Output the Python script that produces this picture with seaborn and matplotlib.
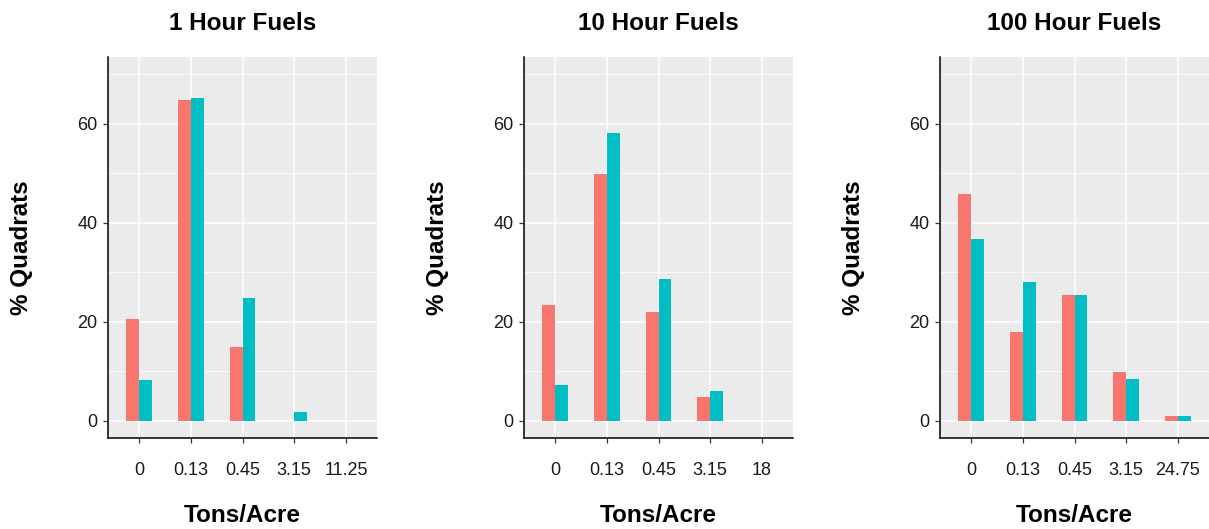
import matplotlib
matplotlib.use("Agg")
import matplotlib.pyplot as plt
import seaborn as sns
import pandas as pd
from matplotlib.ticker import FixedLocator

# ---- data ----
titles = ["1 Hour Fuels", "10 Hour Fuels", "100 Hour Fuels"]
cats_1h = ["0", "0.13", "0.45", "3.15", "11.25"]
cats_10h = ["0", "0.13", "0.45", "3.15", "18"]
cats_100h = ["0", "0.13", "0.45", "3.15", "24.75"]
groups = ["Group 1", "Group 2"]
g1_1h = [20.5, 64.9, 14.8, 0.0, 0.0]
g2_1h = [8.2, 65.2, 24.8, 1.7, 0.0]
g1_10h = [23.3, 49.9, 22.0, 4.8, 0.0]
g2_10h = [7.3, 58.2, 28.6, 6.0, 0.0]
g1_100h = [45.9, 18.0, 25.5, 9.8, 1.0]
g2_100h = [36.8, 28.0, 25.5, 8.5, 1.0]
colors = ["#F8766D", "#00BFC4"]

panels = [
    (titles[0], cats_1h, g1_1h, g2_1h),
    (titles[1], cats_10h, g1_10h, g2_10h),
    (titles[2], cats_100h, g1_100h, g2_100h),
]

sns.set_theme(style="whitegrid")
plt.rcParams["font.family"] = ["Liberation Sans", "DejaVu Sans"]

W, H = 1209, 529
fig = plt.figure(figsize=(W / 100, H / 100), dpi=100)
fig.patch.set_facecolor("white")

lefts = [108, 524, 940]
ax_w = 269
ax_top, ax_bot = 57, 438

for (title, cats, v1, v2), left in zip(panels, lefts):
    ax = fig.add_axes([left / W, (H - ax_bot) / H, ax_w / W, (ax_bot - ax_top) / H])
    df = pd.DataFrame({
        "load": cats * 2,
        "pct": list(v1) + list(v2),
        "group": [groups[0]] * len(cats) + [groups[1]] * len(cats),
    })
    sns.barplot(data=df, x="load", y="pct", hue="group", order=cats,
                hue_order=groups, palette=colors, width=0.5, gap=0,
                saturation=1, legend=False, ax=ax, linewidth=0)
    ax.set_facecolor("#EBEBEB")
    ax.set_xlim(-0.6, len(cats) - 0.4)
    ax.set_ylim(-3.5, 73.5)
    ax.yaxis.set_major_locator(FixedLocator([0, 20, 40, 60]))
    ax.yaxis.set_minor_locator(FixedLocator([10, 30, 50, 70]))
    ax.grid(which="major", axis="both", color="white", linewidth=1.1)
    ax.grid(which="minor", axis="y", color="white", linewidth=0.55)
    ax.set_axisbelow(True)
    for s in ["top", "right"]:
        ax.spines[s].set_visible(False)
    for s in ["left", "bottom"]:
        ax.spines[s].set_visible(True)
        ax.spines[s].set_color("black")
        ax.spines[s].set_linewidth(1.1)
    ax.tick_params(axis="x", which="major", length=3.5, width=0.9, color="#333333",
                   labelsize=13, labelcolor="#1a1a1a", pad=14, bottom=True)
    ax.tick_params(axis="y", which="major", length=3.5, width=0.9, color="#333333",
                   labelsize=13, labelcolor="#1a1a1a", pad=4, left=True)
    ax.tick_params(which="minor", length=0)
    ax.set_xlabel("Tons/Acre", fontsize=17.5, fontweight="bold", color="black")
    ax.set_ylabel("% Quadrats", fontsize=17.5, fontweight="bold", color="black")
    ax.xaxis.set_label_coords(0.5, -0.172)
    ax.yaxis.set_label_coords(-0.28, 0.5)
    ax.text(0.5, 1.087, title, transform=ax.transAxes, ha="center", va="center",
            fontsize=17.5, fontweight="bold", color="black")

fig.savefig("out.png", dpi=100)
